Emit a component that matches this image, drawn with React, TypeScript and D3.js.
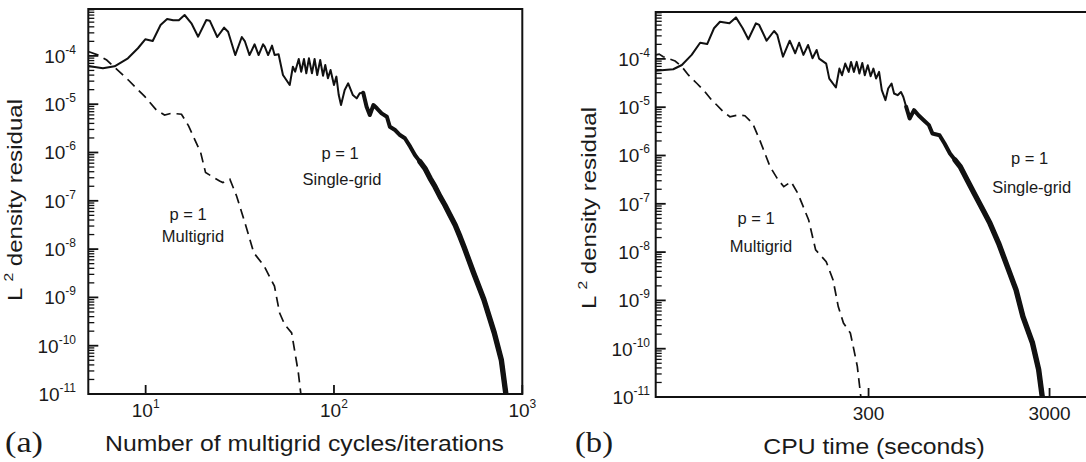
import React from "react";
import * as d3 from "d3";

// ---------- Panel (a): residual vs. number of cycles / iterations ----------
const sgIter = [4.96, 5.93, 6.84, 8.05, 9.1, 9.95, 10.9, 12.0, 13.0, 14.0, 15.0, 16.1, 17.5, 19.0, 21.0, 21.9, 24.0, 26.1, 27.4, 29.9, 32.4, 33.6, 35.6, 37.9, 39.8, 42.0, 42.9, 44.7, 46.9, 48.4, 50.8, 53.6, 58.2, 60.5, 62.2, 65.0, 67.0, 69.3, 71.3, 73.6, 76.4, 78.9, 81.5, 84.5, 87.5, 89.9, 92.9, 95.9, 100, 103, 106, 109, 114, 119, 126, 132, 137, 143, 149, 155, 162, 169, 179, 191, 198, 211, 224, 238, 254, 269, 286, 304, 324, 344, 366, 388, 413, 440, 467, 490, 551, 625, 710, 774, 818];
const sgResA = [6.2e-5, 5.53e-5, 6.1e-5, 8.91e-5, 1.44e-4, 2.21e-4, 2.03e-4, 4.37e-4, 5.81e-4, 5.46e-4, 5.46e-4, 7.03e-4, 4.73e-4, 2.5e-4, 5.53e-4, 5.36e-4, 2.46e-4, 3.84e-4, 3.17e-4, 1.04e-4, 2.46e-4, 2.03e-4, 1.04e-4, 1.74e-4, 1.04e-4, 1.74e-4, 1.55e-4, 1.04e-4, 1.63e-4, 1.04e-4, 1.08e-4, 4.03e-5, 2.5e-5, 5.97e-5, 4.71e-5, 8.63e-5, 4.71e-5, 8.63e-5, 4.35e-5, 8.91e-5, 4.35e-5, 8.63e-5, 4.03e-5, 8.22e-5, 3.89e-5, 6.49e-5, 3.44e-5, 5.11e-5, 2.5e-5, 3.72e-5, 1.55e-5, 9.6e-6, 1.97e-5, 2.71e-5, 1.55e-5, 1.32e-5, 1.68e-5, 1.73e-5, 8.87e-6, 5.97e-6, 9.6e-6, 8.22e-6, 6.47e-6, 5.51e-6, 3.42e-6, 2.92e-6, 2.3e-6, 1.97e-6, 1.32e-6, 8.87e-7, 6.46e-7, 4.71e-7, 2.92e-7, 1.96e-7, 1.22e-7, 8.18e-8, 5.08e-8, 3.16e-8, 1.81e-8, 1.12e-8, 3.23e-9, 9.04e-10, 1.84e-10, 5.06e-11, 1e-11];
const mgIter = [5.0, 5.6, 6.21, 8.09, 9.91, 11.4, 12.6, 13.7, 15.5, 16.9, 19.6, 20.8, 24.7, 25.7, 28.0, 30.4, 34.5, 37.5, 42.6, 48.3, 51.4, 54.7, 59.6, 62.1, 64.7, 66.7];
const mgResA = [1.22e-4, 1.04e-4, 8.22e-5, 3.17e-5, 1.43e-5, 7.59e-6, 5.97e-6, 6.47e-6, 6.21e-6, 3.56e-6, 9.95e-7, 3.84e-7, 2.57e-7, 2.38e-7, 2.79e-7, 1.26e-7, 2.56e-8, 8.41e-9, 4.45e-9, 1.71e-9, 4.8e-10, 2.75e-10, 1.84e-10, 7.1e-11, 2.74e-11, 1e-11];

// ---------- Panel (b): residual vs. CPU time ----------
const sgTime = [20.0, 25.0, 27.9, 31.6, 35.2, 38.5, 42.0, 45.3, 51.1, 55.5, 60.5, 65.0, 71.6, 74.6, 82.0, 90.2, 94.0, 101, 110, 118, 124, 131, 139, 147, 155, 160, 175, 182, 198, 207, 214, 223, 233, 240, 249, 258, 267, 277, 286, 297, 308, 319, 330, 343, 355, 372, 385, 402, 415, 434, 453, 467, 484, 506, 535, 566, 605, 647, 676, 740, 789, 845, 902, 964, 1052, 1151, 1259, 1406, 1570, 1754, 1959, 2138, 2415, 2612, 2735];
const sgResB = [5.7e-5, 6.1e-5, 7.48e-5, 1.21e-4, 2.16e-4, 2.03e-4, 4.31e-4, 5.89e-4, 5.46e-4, 7.23e-4, 4.31e-4, 2.55e-4, 5.46e-4, 5.04e-4, 2.38e-4, 3.78e-4, 3.13e-4, 1.11e-4, 2.38e-4, 1.31e-4, 2.16e-4, 1.21e-4, 1.94e-4, 1.03e-4, 1.53e-4, 1.01e-4, 8.0e-5, 3.91e-5, 2.56e-5, 6.3e-5, 4.59e-5, 8.0e-5, 5.38e-5, 8.67e-5, 5.38e-5, 8.67e-5, 4.97e-5, 8.26e-5, 4.59e-5, 7.4e-5, 4.38e-5, 6.3e-5, 3.91e-5, 5.38e-5, 2.25e-5, 1.4e-5, 2.44e-5, 3.09e-5, 1.92e-5, 1.77e-5, 2.07e-5, 1.63e-5, 1.02e-5, 5.83e-6, 8.67e-6, 6.82e-6, 5.38e-6, 4.25e-6, 2.85e-6, 2.63e-6, 1.77e-6, 1.1e-6, 8.04e-7, 5.86e-7, 3.11e-7, 1.64e-7, 8.71e-8, 3.94e-8, 1.52e-8, 5.01e-9, 1.65e-9, 4.63e-10, 1.31e-10, 3.67e-11, 1e-11];
const mgTime = [20.0, 20.9, 22.0, 25.6, 27.9, 30.3, 33.7, 37.4, 40.7, 43.5, 47.2, 51.4, 57.1, 62.2, 68.7, 75.2, 85.7, 93.8, 102, 112, 122, 140, 153, 175, 191, 204, 218, 238, 249, 260, 272];
const mgResB = [1.21e-4, 1.26e-4, 1.11e-4, 9.04e-5, 6.89e-5, 4.65e-5, 3.13e-5, 2.09e-5, 1.41e-5, 1.11e-5, 8.07e-6, 6.35e-6, 6.89e-6, 6.67e-6, 4.6e-6, 2.08e-6, 5.86e-7, 3.36e-7, 2.26e-7, 2.86e-7, 1.64e-7, 4.62e-8, 1.11e-8, 6.35e-9, 2.65e-9, 7.46e-10, 3.39e-10, 2.1e-10, 9.48e-11, 4.31e-11, 1e-11];

// ---------- Axis ticks ----------
const xTicksA = [10, 100, 1000];
const xTickExpA = ["1", "2", "3"];
const xTicksB = [300, 3000];
const xTickLabelsB = ["300", "3000"];
const yDecades = [-11, -10, -9, -8, -7, -6, -5, -4];
const yMinorMult = [2, 3, 4, 5, 6, 7, 8, 9];

const FONT = "'Liberation Sans', Arial, Helvetica, sans-serif";
const SERIF = "'Liberation Serif', 'Times New Roman', serif";

type PanelProps = {
  id: string;
  xDomain: [number, number];
  xRange: [number, number];
  yRange: [number, number];
  sgX: number[];
  sgY: number[];
  mgX: number[];
  mgY: number[];
  band1: number;
  band2: number;
  yLabelRight: number;
  yTitleX: number;
  yTitleY: number;
  xTickLabels: { v: number; base: string; sup?: string }[];
  xTitle: string;
  xTitleX: number;
  xTitleLen: number;
  panelLabel: string;
  panelLabelX: number;
  sgText: [number, number, number];
  mgText: [number, number, number];
};

function Panel(p: PanelProps) {
  const x = d3.scaleLog().domain(p.xDomain).range(p.xRange);
  const y = d3.scaleLog().domain([1e-11, Math.pow(10, -3.029)]).range(p.yRange);
  const line = d3
    .line<[number, number]>()
    .x((d) => x(d[0]))
    .y((d) => y(d[1]));
  const sg: [number, number][] = p.sgX.map((v, i) => [v, p.sgY[i]]);
  const mg: [number, number][] = p.mgX.map((v, i) => [v, p.mgY[i]]);
  const sgBand1 = sg.filter((d) => d[0] >= p.band1);
  const sgBand2 = sg.filter((d) => d[0] >= p.band2);
  const [x0, x1] = p.xRange;
  const [yb, yt] = p.yRange;
  const minor: number[] = [];
  yDecades.forEach((d) => yMinorMult.forEach((m) => minor.push(m * Math.pow(10, d))));
  const minorIn = minor.filter((v) => v <= y.domain()[1]);
  return (
    <g>
      <defs>
        <clipPath id={`clip-${p.id}`}>
          <rect x={x0} y={yt} width={x1 - x0} height={yb - yt + 1} />
        </clipPath>
      </defs>
      <g clipPath={`url(#clip-${p.id})`} fill="none" stroke="#111">
        <path d={line(sg) || ""} strokeWidth={2} strokeLinejoin="round" />
        <path d={line(sgBand1) || ""} strokeWidth={4} strokeLinejoin="round" strokeLinecap="round" />
        <path d={line(sgBand2) || ""} strokeWidth={5.4} strokeLinejoin="round" strokeLinecap="round" />
        <path d={line(mg) || ""} strokeWidth={1.7} strokeDasharray="10,6" />
      </g>
      {/* y ticks */}
      <g stroke="#111" strokeWidth={1.3}>
        {minorIn.map((v, i) => (
          <line key={`m${i}`} x1={x0} x2={x0 + 6} y1={y(v)} y2={y(v)} />
        ))}
        {yDecades.map((d) => (
          <line key={`M${d}`} x1={x0} x2={x0 + 10} y1={y(Math.pow(10, d))} y2={y(Math.pow(10, d))} strokeWidth={1.8} />
        ))}
        {p.xTickLabels.map((t) => (
          <line key={`x${t.v}`} x1={x(t.v)} x2={x(t.v)} y1={yb} y2={yb - 9} strokeWidth={1.8} />
        ))}
      </g>
      <rect x={x0} y={yt} width={x1 - x0} height={yb - yt} fill="none" stroke="#111" strokeWidth={2} />
      {/* y tick labels */}
      <g fontFamily={FONT} fontSize={19} fill="#1a1a1a" textAnchor="end">
        {yDecades.map((d) => (
          <text key={`yl${d}`} x={p.yLabelRight} y={y(Math.pow(10, d)) + 7}>
            10
            <tspan fontSize={12} dy={-9}>{`-${-d}`}</tspan>
          </text>
        ))}
      </g>
      {/* x tick labels */}
      <g fontFamily={FONT} fontSize={19} fill="#1a1a1a" textAnchor="middle">
        {p.xTickLabels.map((t) => (
          <text key={`xl${t.v}`} x={x(t.v)} y={yb + 23}>
            {t.base}
            {t.sup ? (
              <tspan fontSize={12} dy={-9}>
                {t.sup}
              </tspan>
            ) : null}
          </text>
        ))}
      </g>
      {/* axis titles */}
      <text
        transform={`translate(${p.yTitleX},${p.yTitleY}) rotate(-90)`}
        fontFamily={FONT}
        fontSize={20}
        fill="#1a1a1a"
        textAnchor="middle"
        textLength={202}
        lengthAdjust="spacingAndGlyphs"
      >
        L
        <tspan fontSize={13} dx={5} dy={-9}>
          2
        </tspan>
        <tspan dy={9}> density residual</tspan>
      </text>
      <text
        x={p.xTitleX}
        y={yb + 57}
        fontFamily={FONT}
        fontSize={22}
        fill="#1a1a1a"
        textAnchor="middle"
        textLength={p.xTitleLen}
        lengthAdjust="spacingAndGlyphs"
      >
        {p.xTitle}
      </text>
      <text x={p.panelLabelX} y={452} fontFamily={SERIF} fontSize={30} fill="#1a1a1a" textLength={38} lengthAdjust="spacingAndGlyphs">
        {p.panelLabel}
      </text>
      {/* annotations */}
      <g fontFamily={FONT} fontSize={16.5} fill="#1a1a1a" textAnchor="middle">
        <text x={p.sgText[0]} y={p.sgText[1]}>p = 1</text>
        <text x={p.sgText[0] + 2} y={p.sgText[2]}>Single-grid</text>
        <text x={p.mgText[0]} y={p.mgText[1]}>p = 1</text>
        <text x={p.mgText[0] + 5} y={p.mgText[2]}>Multigrid</text>
      </g>
    </g>
  );
}

export default function App() {
  return (
    <svg
      width={1086}
      height={462}
      viewBox="0 0 1086 462"
      style={{ position: "absolute", left: 0, top: 0, background: "#fff", display: "block" }}
    >
      <rect x={0} y={0} width={1086} height={462} fill="#fff" />
      <Panel
        id="a"
        xDomain={[4.96, 1000]}
        xRange={[88.3, 522.3]}
        yRange={[394, 9]}
        sgX={sgIter}
        sgY={sgResA}
        mgX={mgIter}
        mgY={mgResA}
        band1={140}
        band2={280}
        yLabelRight={76}
        yTitleX={22}
        yTitleY={200}
        xTickLabels={xTicksA.map((v, i) => ({ v, base: "10", sup: xTickExpA[i] }))}
        xTitle="Number of multigrid cycles/iterations"
        xTitleX={304.5}
        xTitleLen={399}
        panelLabel="(a)"
        panelLabelX={5}
        sgText={[340, 158.5, 184.5]}
        mgText={[188, 219.5, 242]}
      />
      <Panel
        id="b"
        xDomain={[20, 5000]}
        xRange={[655.7, 1089.7]}
        yRange={[397, 12]}
        sgX={sgTime}
        sgY={sgResB}
        mgX={mgTime}
        mgY={mgResB}
        band1={480}
        band2={900}
        yLabelRight={650}
        yTitleX={596}
        yTitleY={208}
        xTickLabels={xTicksB.map((v, i) => ({ v, base: xTickLabelsB[i] }))}
        xTitle="CPU time (seconds)"
        xTitleX={874}
        xTitleLen={221.5}
        panelLabel="(b)"
        panelLabelX={575}
        sgText={[1029.7, 163.5, 192.7]}
        mgText={[756, 224, 251.6]}
      />
    </svg>
  );
}
